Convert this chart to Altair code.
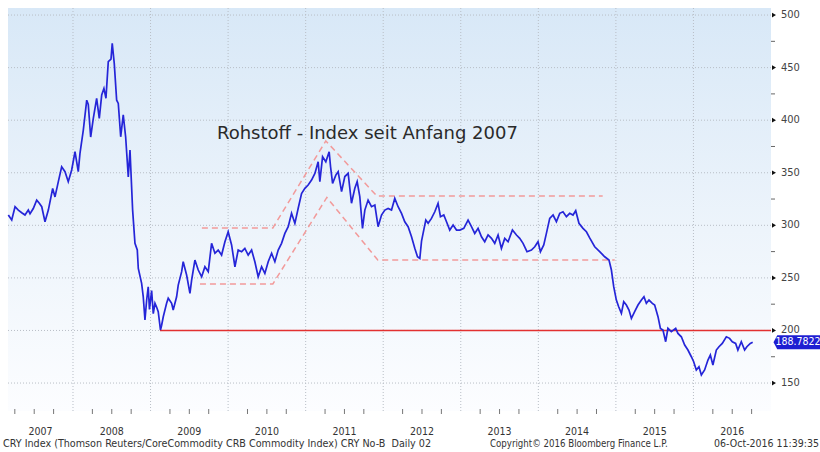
import altair as alt
import pandas as pd

# ---------------- data ----------------
t = [2007.166, 2007.210, 2007.253, 2007.295, 2007.339, 2007.381, 2007.424, 2007.446, 2007.488, 2007.532,
     2007.566, 2007.597, 2007.639, 2007.682, 2007.738, 2007.768, 2007.811, 2007.854, 2007.897, 2007.939,
     2007.983, 2008.026, 2008.068, 2008.090, 2008.133, 2008.177, 2008.197, 2008.228, 2008.262, 2008.305,
     2008.339, 2008.370, 2008.399, 2008.425, 2008.455, 2008.490, 2008.506, 2008.532, 2008.563, 2008.584,
     2008.615, 2008.648, 2008.679, 2008.713, 2008.735, 2008.769, 2008.799, 2008.829, 2008.842, 2008.885,
     2008.906, 2008.928, 2008.950, 2008.970, 2008.986, 2009.014, 2009.035, 2009.057, 2009.079, 2009.099,
     2009.128, 2009.143, 2009.164, 2009.207, 2009.228, 2009.272, 2009.292, 2009.336, 2009.357, 2009.401,
     2009.421, 2009.465, 2009.508, 2009.530, 2009.572, 2009.615, 2009.659, 2009.701, 2009.744, 2009.787,
     2009.830, 2009.872, 2009.916, 2009.959, 2010.001, 2010.045, 2010.088, 2010.130, 2010.174, 2010.216,
     2010.259, 2010.303, 2010.345, 2010.388, 2010.432, 2010.474, 2010.517, 2010.561, 2010.603, 2010.646,
     2010.689, 2010.732, 2010.775, 2010.818, 2010.861, 2010.903, 2010.947, 2010.990, 2011.032, 2011.076,
     2011.119, 2011.161, 2011.183, 2011.218, 2011.260, 2011.303, 2011.321, 2011.347, 2011.389, 2011.419,
     2011.463, 2011.505, 2011.548, 2011.591, 2011.634, 2011.664, 2011.698, 2011.733, 2011.763, 2011.805,
     2011.849, 2011.892, 2011.934, 2011.978, 2012.021, 2012.063, 2012.107, 2012.149, 2012.192, 2012.236,
     2012.278, 2012.321, 2012.365, 2012.407, 2012.442, 2012.472, 2012.494, 2012.514, 2012.549, 2012.579,
     2012.622, 2012.665, 2012.707, 2012.738, 2012.781, 2012.816, 2012.858, 2012.901, 2012.945, 2012.987,
     2013.039, 2013.094, 2013.138, 2013.180, 2013.223, 2013.267, 2013.309, 2013.352, 2013.396, 2013.438,
     2013.481, 2013.524, 2013.567, 2013.610, 2013.666, 2013.718, 2013.760, 2013.803, 2013.854, 2013.911,
     2013.954, 2013.996, 2014.027, 2014.070, 2014.104, 2014.147, 2014.190, 2014.233, 2014.276, 2014.318,
     2014.362, 2014.405, 2014.447, 2014.482, 2014.524, 2014.576, 2014.620, 2014.662, 2014.727, 2014.791,
     2014.856, 2014.911, 2014.942, 2014.972, 2015.006, 2015.036, 2015.071, 2015.101, 2015.135, 2015.169,
     2015.200, 2015.242, 2015.285, 2015.329, 2015.362, 2015.393, 2015.427, 2015.470, 2015.500, 2015.543,
     2015.574, 2015.607, 2015.642, 2015.671, 2015.715, 2015.771, 2015.800, 2015.844, 2015.887, 2015.929,
     2015.973, 2016.003, 2016.037, 2016.071, 2016.102, 2016.144, 2016.187, 2016.218, 2016.251, 2016.295,
     2016.329, 2016.372, 2016.424, 2016.466, 2016.501, 2016.544, 2016.573, 2016.617, 2016.660, 2016.689,
     2016.733, 2016.764]
v = [309.8, 305.0, 317.7, 314.5, 312.0, 309.8, 314.5, 311.0, 316.0, 324.0,
     321.0, 317.7, 303.4, 314.5, 335.0, 327.0, 341.5, 355.7, 351.0, 341.5,
     352.6, 370.0, 351.0, 368.5, 390.6, 419.0, 415.0, 384.0, 401.7, 420.8,
     401.7, 423.9, 430.2, 420.8, 455.6, 458.0, 473.0, 454.0, 419.0, 416.0,
     384.2, 405.0, 384.0, 346.0, 371.6, 314.5, 282.9, 276.5, 259.0, 244.8,
     232.0, 210.0, 229.0, 241.6, 220.0, 238.0, 216.0, 225.8, 222.0, 217.8,
     200.5, 205.0, 213.0, 225.8, 230.6, 225.8, 219.4, 232.0, 243.2, 255.9,
     265.4, 252.7, 235.3, 248.0, 267.0, 257.5, 251.0, 260.6, 255.9, 282.9,
     273.4, 276.5, 271.7, 284.4, 293.9, 281.3, 260.6, 276.5, 274.9, 278.1,
     271.7, 276.5, 265.4, 251.1, 260.6, 254.3, 265.4, 273.4, 265.4, 276.5,
     282.9, 292.3, 298.7, 311.4, 301.9, 316.0, 330.3, 335.2, 338.3, 343.1,
     349.4, 360.5, 341.5, 365.3, 360.5, 370.0, 355.7, 339.9, 347.8, 351.0,
     332.0, 346.4, 349.4, 321.0, 335.2, 341.5, 327.2, 297.1, 314.5, 324.0,
     317.7, 319.3, 298.7, 309.8, 314.5, 316.1, 314.5, 325.6, 317.7, 311.4,
     303.4, 298.7, 289.1, 278.1, 270.1, 268.5, 285.0, 292.3, 305.0, 301.9,
     306.6, 312.9, 320.9, 308.2, 309.8, 303.4, 295.5, 300.3, 295.5, 295.5,
     297.1, 305.0, 298.7, 292.3, 297.1, 289.1, 284.4, 290.8, 287.6, 282.9,
     290.8, 278.1, 287.6, 284.4, 295.5, 290.8, 287.6, 282.9, 274.9, 276.5,
     279.6, 284.4, 274.9, 281.3, 292.3, 306.6, 309.8, 303.4, 311.4, 312.9,
     308.2, 311.4, 309.8, 313.9, 301.9, 297.1, 293.9, 288.0, 279.6, 274.9,
     270.1, 267.0, 257.5, 241.6, 228.9, 222.6, 216.3, 227.3, 224.2, 219.4,
     211.5, 217.8, 224.2, 228.9, 232.1, 225.8, 228.9, 225.8, 224.2, 213.1,
     202.0, 200.4, 189.3, 202.0, 198.8, 202.0, 197.2, 194.0, 186.1, 181.4,
     175.0, 170.3, 162.4, 165.5, 157.6, 162.4, 171.9, 176.6, 167.1, 181.4,
     184.5, 187.7, 194.0, 192.5, 189.3, 187.7, 181.4, 189.3, 181.4, 184.5,
     187.7, 188.8]

upper_t = [2009.662, 2010.577, 2011.260, 2011.918, 2014.830]
upper_v = [297.5, 297.5, 380.3, 327.9, 327.9]
lower_t = [2009.637, 2010.577, 2011.273, 2011.930, 2014.985]
lower_v = [244.2, 244.2, 326.5, 267.0, 267.0]
support_t = [2009.121, 2017.0]
support_v = [200.0, 200.0]

year_starts = [2008, 2009, 2010, 2011, 2012, 2013, 2014, 2015, 2016, 2017]
year_labels = ["2007", "2008", "2009", "2010", "2011", "2012", "2013", "2014", "2015", "2016"]
year_label_pos = [2007.58, 2008.5, 2009.5, 2010.5, 2011.5, 2012.5, 2013.5, 2014.5, 2015.5, 2016.5]
quarter_ticks = [y + q for y in range(2007, 2017) for q in (0.25, 0.5, 0.75) if y + q > 2007.17]
y_major = [150, 200, 250, 300, 350, 400, 450, 500]
y_major_labels = ["150", "200", "250", "300", "350", "400", "450", "500"]
y_minor = [175, 225, 275, 325, 375, 425, 475]
last_value = [188.7822]
last_label = ["188.7822"]

title_text = "Rohstoff - Index seit Anfang 2007"
footer_left = "CRY Index (Thomson Reuters/CoreCommodity CRB Commodity Index) CRY No-B\u00a0 Daily 02"
footer_mid = "Copyright\u00a9 2016 Bloomberg Finance L.P."
footer_right = "06-Oct-2016 11:39:35"

# ---------------- layout ----------------
W, H = 763, 403
XMIN, XMAX = 2007.162, 2017.0
YMIN, YMAX = 123.4, 506.7
NARROW = "Liberation Sans Narrow, DejaVu Sans Condensed, sans-serif"

xs = alt.Scale(domain=[XMIN, XMAX], nice=False, zero=False)
ys = alt.Scale(domain=[YMIN, YMAX], nice=False, zero=False)

one = pd.DataFrame({"a": [0]})
df = pd.DataFrame({"t": t, "v": v})
dashed = pd.concat([
    pd.DataFrame({"t": upper_t, "v": upper_v, "g": "upper"}),
    pd.DataFrame({"t": lower_t, "v": lower_v, "g": "lower"}),
])
support = pd.DataFrame({"t": support_t, "v": support_v})

grad = alt.Gradient(
    gradient="linear",
    stops=[alt.GradientStop(color="#d8e8f7", offset=0),
           alt.GradientStop(color="#edf4fb", offset=0.55),
           alt.GradientStop(color="#fcfdff", offset=1)],
    x1=0, x2=0, y1=0, y2=1,
)
bg = alt.Chart(one).mark_rect(color=grad).encode(
    x=alt.value(0), x2=alt.value(W), y=alt.value(0), y2=alt.value(H))

hgrid = alt.Chart(pd.DataFrame({"v": y_major})).mark_rule(
    color="#b8bec6", strokeDash=[1, 2], strokeWidth=1).encode(
    y=alt.Y("v:Q", scale=ys, axis=None))
vgrid = alt.Chart(pd.DataFrame({"t": year_starts[:-1]})).mark_rule(
    color="#b8bec6", strokeDash=[1, 2], strokeWidth=1).encode(
    x=alt.X("t:Q", scale=xs, axis=None))

red = alt.Chart(support).mark_line(color="#e23030", strokeWidth=1.6).encode(
    x=alt.X("t:Q", scale=xs, axis=None), y=alt.Y("v:Q", scale=ys, axis=None))

dash = alt.Chart(dashed).mark_line(color="#f29a9a", strokeWidth=1.5, strokeDash=[6, 4]).encode(
    x=alt.X("t:Q", scale=xs, axis=None), y=alt.Y("v:Q", scale=ys, axis=None), detail="g:N")

main = alt.Chart(df).mark_line(color="#2525d8", strokeWidth=1.7).encode(
    x=alt.X("t:Q", scale=xs, title=None,
            axis=alt.Axis(values=year_starts, labels=False, grid=False, tickSize=24,
                          tickColor="#a0a0a0", domainColor="#555555", domainWidth=1, orient="bottom")),
    y=alt.Y("v:Q", scale=ys, title=None,
            axis=alt.Axis(values=y_major, orient="right", grid=False, ticks=False, labels=False,
                          domainColor="#555555", domainWidth=1)),
)

qticks = alt.Chart(pd.DataFrame({"t": quarter_ticks})).mark_rule(color="#777777").encode(
    x=alt.X("t:Q", scale=xs, axis=None), y=alt.value(H - 2), y2=alt.value(H + 3))

ymaj = alt.Chart(pd.DataFrame({"v": y_major})).mark_point(
    shape="triangle-right", filled=True, size=22, color="#111111", opacity=1).encode(
    x=alt.value(W + 3), y=alt.Y("v:Q", scale=ys, axis=None))
ymajlab = alt.Chart(pd.DataFrame({"v": y_major, "s": y_major_labels})).mark_text(
    font=NARROW, fontSize=11, color="#444444", baseline="middle", align="left").encode(
    x=alt.value(W + 10), y=alt.Y("v:Q", scale=ys, axis=None), text="s:N")
ymin = alt.Chart(pd.DataFrame({"v": y_minor})).mark_rule(color="#666666").encode(
    x=alt.value(W), x2=alt.value(W + 4), y=alt.Y("v:Q", scale=ys, axis=None))

ylab = alt.Chart(pd.DataFrame({"t": year_label_pos, "lab": year_labels})).mark_text(
    font=NARROW, fontSize=10.5, color="#333333", baseline="alphabetic", align="center").encode(
    x=alt.X("t:Q", scale=xs, axis=None), y=alt.value(H + 24), text="lab:N")

foot = alt.Chart(pd.DataFrame({"s": [footer_left]})).mark_text(
    font=NARROW, fontSize=10.7, color="#333333", baseline="alphabetic", align="left").encode(
    x=alt.value(-5), y=alt.value(H + 36), text="s:N")
foot2 = alt.Chart(pd.DataFrame({"s": [footer_mid]})).mark_text(
    font=NARROW, fontSize=9.6, color="#333333", baseline="alphabetic", align="left").encode(
    x=alt.value(482), y=alt.value(H + 36), text="s:N")
foot3 = alt.Chart(pd.DataFrame({"s": [footer_right]})).mark_text(
    font=NARROW, fontSize=10.5, color="#333333", baseline="alphabetic", align="right").encode(
    x=alt.value(811), y=alt.value(H + 36), text="s:N")

title = alt.Chart(pd.DataFrame({"s": [title_text]})).mark_text(
    font="DejaVu Sans", fontSize=18, color="#2a2a2a", baseline="alphabetic", align="left").encode(
    x=alt.value(209), y=alt.value(130.5), text="s:N")

box = alt.Chart(pd.DataFrame({"v": last_value})).mark_point(
    shape="M -1 0 L -0.84 -0.3 L 1 -0.3 L 1 0.3 L -0.84 0.3 Z", filled=True,
    size=2209, color="#1e1ed2", opacity=1).encode(
    x=alt.value(W + 26), y=alt.Y("v:Q", scale=ys, axis=None))
boxtxt = alt.Chart(pd.DataFrame({"v": last_value, "s": last_label})).mark_text(
    font=NARROW, fontSize=10.5, color="white", baseline="middle", align="center").encode(
    x=alt.value(W + 27), y=alt.Y("v:Q", scale=ys, axis=None), text="s:N")

chart = alt.layer(
    bg, hgrid, vgrid, red, dash, main, qticks, ymaj, ymajlab, ymin, ylab, foot, foot2, foot3,
    title, box, boxtxt
).properties(
    width=W, height=H,
    autosize=alt.AutoSizeParams(type="none"),
    padding={"left": 8, "top": 8, "right": 49, "bottom": 41},
    background="white",
).configure_view(stroke=None)

chart.save("out.html", embed_options={"renderer": "svg", "actions": False})
